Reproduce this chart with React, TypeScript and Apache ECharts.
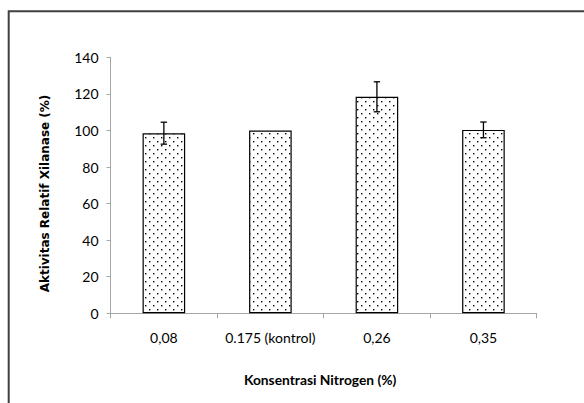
import React, { useEffect, useRef } from "react";
import * as echarts from "echarts";

const categories = ["0,08", "0.175 (kontrol)", "0,26", "0,35"];
const values = [98.5, 100, 118.4, 100.3];
const errors = [6, 0, 8.2, 4.3];
const yTicks = { min: 0, max: 140, interval: 20 };
const xTitle = "Konsentrasi Nitrogen (%)";
const yTitle = "Aktivitas Relatif Xilanase (%)";

const FONT = 'Lato, "Open Sans", sans-serif';

function makePattern() {
  const c = document.createElement("canvas");
  c.width = 8;
  c.height = 8;
  const ctx = c.getContext("2d")!;
  ctx.fillStyle = "#ffffff";
  ctx.fillRect(0, 0, 8, 8);
  ctx.fillStyle = "#000000";
  ctx.fillRect(1, 1, 1.4, 1.4);
  ctx.fillRect(5, 5, 1.4, 1.4);
  return c.toDataURL();
}

export default function App() {
  const ref = useRef<HTMLDivElement>(null);
  useEffect(() => {
    if (!ref.current) return;
    const chart = echarts.init(ref.current, null, { renderer: "svg" });
    const pattern = makePattern();
    chart.setOption({
      animation: false,
      backgroundColor: "#ffffff",
      grid: { left: 110.6, right: 47.3, top: 57.3, bottom: 89.7, containLabel: false },
      xAxis: {
        type: "category",
        data: categories,
        axisLine: { lineStyle: { color: "#a6a6a6", width: 1 } },
        axisTick: { show: true, length: 5, lineStyle: { color: "#a6a6a6" } },
        axisLabel: { color: "#000", fontFamily: FONT, fontSize: 14, margin: 17, interval: 0 },
        name: xTitle,
        nameLocation: "middle",
        nameGap: 59,
        nameTextStyle: {
          color: "#000",
          fontFamily: FONT,
          fontSize: 13.8,
          fontWeight: "bold",
          padding: [0, 7, 0, 0],
        },
      },
      yAxis: {
        type: "value",
        min: yTicks.min,
        max: yTicks.max,
        interval: yTicks.interval,
        splitLine: { show: false },
        axisLine: { show: true, lineStyle: { color: "#a6a6a6", width: 1 } },
        axisTick: { show: true, length: 4, lineStyle: { color: "#a6a6a6" } },
        axisLabel: { color: "#000", fontFamily: FONT, fontSize: 14, margin: 12 },
      },
      graphic: [
        {
          type: "rect",
          shape: { x: 8.7, y: 11.2, width: 700, height: 500 },
          style: { fill: "none", stroke: "#404040", lineWidth: 2 },
          silent: true,
        },
        {
          type: "text",
          x: 44.7,
          y: 193.5,
          rotation: Math.PI / 2,
          style: {
            text: yTitle,
            fill: "#000",
            font: 'bold 12px "DejaVu Sans", Verdana, sans-serif',
            textAlign: "center",
            textVerticalAlign: "middle",
          },
        },
      ],
      series: [
        {
          type: "bar",
          data: values,
          barWidth: "40%",
          itemStyle: {
            color: { image: pattern, repeat: "repeat", imageWidth: 8, imageHeight: 8 } as any,
            borderColor: "#000",
            borderWidth: 1.2,
          },
        },
        {
          type: "custom",
          data: categories.map((_, i) => [i, values[i], errors[i]]),
          encode: { x: 0, y: 1 },
          z: 10,
          renderItem: (params: any, api: any) => {
            const i = api.value(0);
            const v = api.value(1);
            const e = api.value(2);
            if (!e) return null;
            const top = api.coord([i, v + e]);
            const bot = api.coord([i, v - e]);
            const hw = 3.2;
            const st = { stroke: "#000", lineWidth: 1.3 };
            return {
              type: "group",
              children: [
                { type: "line", shape: { x1: top[0], y1: top[1], x2: bot[0], y2: bot[1] }, style: st },
                { type: "line", shape: { x1: top[0] - hw, y1: top[1], x2: top[0] + hw, y2: top[1] }, style: st },
                { type: "line", shape: { x1: bot[0] - hw, y1: bot[1], x2: bot[0] + hw, y2: bot[1] }, style: st },
              ],
            };
          },
        },
      ],
    });
    return () => chart.dispose();
  }, []);
  return (
    <div
      ref={ref}
      style={{ position: "fixed", left: 0, top: 0, width: 584, height: 403, background: "#fff" }}
    />
  );
}
